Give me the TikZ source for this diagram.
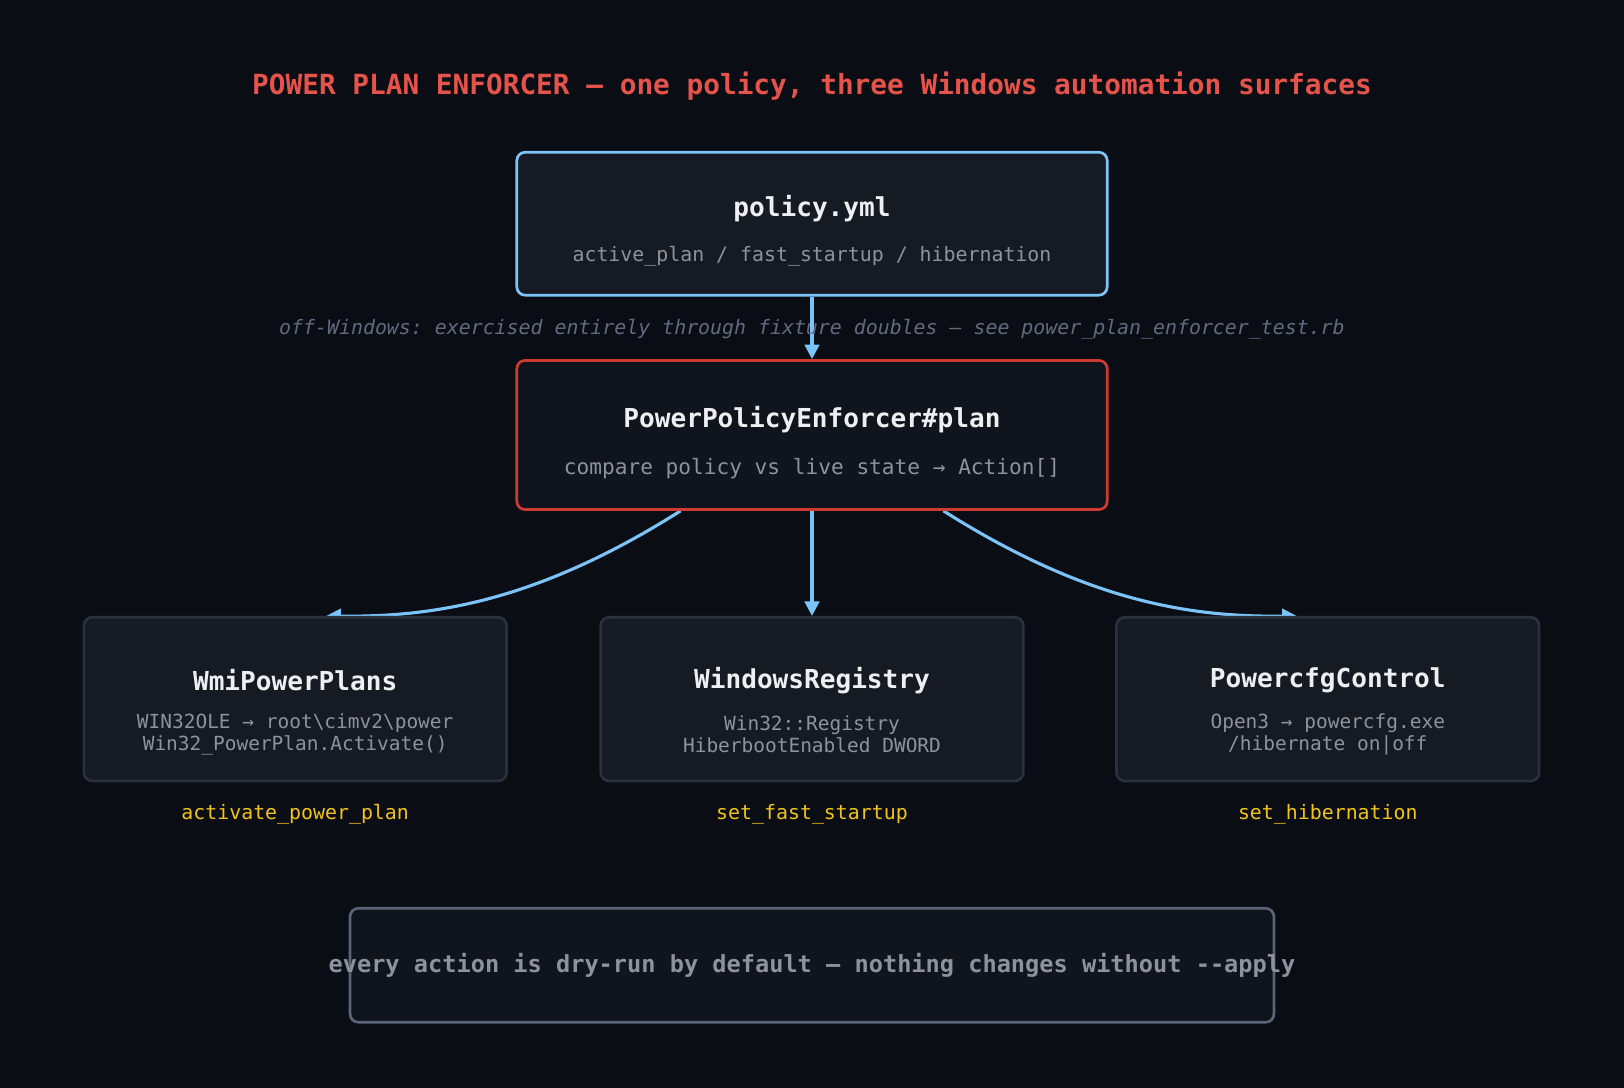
\documentclass[tikz,border=0pt]{standalone}
\usepackage{fontspec}
\setmonofont{DejaVu Sans Mono}
\usetikzlibrary{positioning, arrows.meta, backgrounds}
\definecolor{bgdark}{HTML}{0A0D14}
\definecolor{boxfill}{HTML}{161A22}
\definecolor{boxfilltwo}{HTML}{10141C}
\definecolor{skyblue}{HTML}{7CC4F8}
\definecolor{alertred}{HTML}{CF3A31}
\definecolor{titlered}{HTML}{E5534B}
\definecolor{edgegray}{HTML}{2B303B}
\definecolor{slate}{HTML}{5A6478}
\definecolor{subgray}{HTML}{8D939E}
\definecolor{notegray}{HTML}{5F6B80}
\definecolor{headwhite}{HTML}{EDEFF2}
\definecolor{gold}{HTML}{F2C419}
\tikzset{box/.style={draw, rounded corners=4pt, line width=1.3pt, fill=boxfill},
         head/.style={font=\ttfamily\bfseries\fontsize{12.6}{15}\selectfont, text=headwhite},
         sub/.style={font=\ttfamily\fontsize{9.4}{11}\selectfont, text=subgray, align=center},
         flow/.style={-{Triangle[length=7pt,width=7pt]}, line width=1.5pt, draw=skyblue}}

\begin{document}
\begin{tikzpicture}[x=0.5pt, y=-0.5pt]

        % Background and title
        \useasboundingbox (0,0) rectangle (1568,1050);
        \node[font=\ttfamily\bfseries\fontsize{13.4}{16}\selectfont, text=titlered] (title) at (784,83) {POWER PLAN ENFORCER — one policy, three Windows automation surfaces};

        % Policy and planner boxes
        \node[box, draw=skyblue, minimum width=285pt, minimum height=69pt] (policy) at (784,216) {};
        \node[head] (policyhead) at (784,201) {policy.yml};
        \node[sub, font=\ttfamily\fontsize{9.6}{11}\selectfont] (policysub) at (784,247) {active\_plan / fast\_startup / hibernation};

        \node[box, draw=alertred, fill=boxfilltwo, minimum width=285pt, minimum height=72pt] (plan) at (784,420) {};
        \node[head] (planhead) at (784,405) {PowerPolicyEnforcer\#plan};
        \node[sub, font=\ttfamily\fontsize{10.2}{12}\selectfont] (plansub) at (784,452) {compare policy vs live state → Action[]};

        \node[font=\ttfamily\itshape\fontsize{9.6}{11}\selectfont, text=notegray] (note) at (784,318) {off-Windows: exercised entirely through fixture doubles — see power\_plan\_enforcer\_test.rb};

        % Adapter boxes
        \node[box, draw=edgegray, minimum width=204pt, minimum height=79pt] (wmi) at (285,675) {};
        \node[head] (wmihead) at (285,657) {WmiPowerPlans};
        \node[sub] (wmisub) at (285,709) {WIN32OLE → root\textbackslash cimv2\textbackslash power\\Win32\_PowerPlan.Activate()};
        \node[font=\ttfamily\fontsize{9.6}{11}\selectfont, text=gold] (wmiop) at (285,786) {activate\_power\_plan};

        \node[box, draw=edgegray, minimum width=204pt, minimum height=79pt] (reg) at (784,675) {};
        \node[head] (reghead) at (784,657) {WindowsRegistry};
        \node[sub] (regsub) at (784,709) {Win32::Registry\\HiberbootEnabled DWORD};
        \node[font=\ttfamily\fontsize{9.6}{11}\selectfont, text=gold] (regop) at (784,786) {set\_fast\_startup};

        \node[box, draw=edgegray, minimum width=204pt, minimum height=79pt] (pcfg) at (1282,675) {};
        \node[head] (pcfghead) at (1282,657) {PowercfgControl};
        \node[sub] (pcfgsub) at (1282,709) {Open3 → powercfg.exe\\/hibernate on|off};
        \node[font=\ttfamily\fontsize{9.6}{11}\selectfont, text=gold] (pcfgop) at (1282,786) {set\_hibernation};

        % Footer box
        \node[box, draw=slate, fill=boxfilltwo, minimum width=446pt, minimum height=55pt] (footer) at (784,932) {};
        \node[font=\ttfamily\bfseries\fontsize{11.4}{13}\selectfont, text=subgray] (footertext) at (784,932) {every action is dry-run by default — nothing changes without --apply};

        % Backdrop and arrows (behind the boxes)
        \begin{scope}[on background layer]
        \fill[bgdark] (0,0) rectangle (1568,1050);
        \draw[flow] (policy.south) -- (plan.north);
        \draw[flow] (plan.south) -- (reg.north);
        \draw[flow] (plan.south) ++(-127,0) .. controls (520,580) and (420,596) .. ([xshift=15]wmi.north);
        \draw[flow] (plan.south) ++(127,0) .. controls (1048,580) and (1148,596) .. ([xshift=-15]pcfg.north);
        \end{scope}

    \end{tikzpicture}
\end{document}
